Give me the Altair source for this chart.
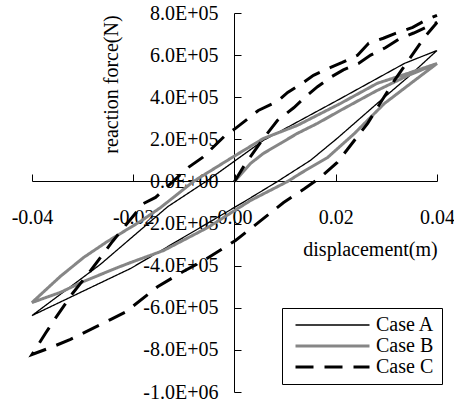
import altair as alt
import pandas as pd

cases = ["Case A", "Case B", "Case C"]
colors = ["#000000", "#868686", "#000000"]
dashes = [[1, 0], [1, 0], [18, 11]]
widths = [1.3, 3, 3]

# Case A (thin black): right corner -> unloading -> left corner -> reloading
a_x = [0.04, 0.0342, 0.0284, 0.0203, 0.015, 0.0085, 0.002, -0.0205, -0.04,
       -0.0265, -0.0132, -0.005, 0.0057, 0.0203, 0.0336, 0.04]
a_y = [6.22e5, 4.94e5, 3.75e5, 2.05e5, 1.0e5, 0.0, -0.95e5, -4.13e5, -6.37e5,
       -3.94e5, -1.2e5, 0.1e5, 1.95e5, 3.85e5, 5.61e5, 6.22e5]

# Case B (gray): initial loading, unloading, reloading
b_x = [0.0, 0.0032, 0.0057, 0.0091, 0.0124, 0.0164, 0.0209, 0.028, 0.034, 0.04,
       0.0356, 0.0296, 0.0237, 0.0184, 0.013, 0.0105, 0.0032, -0.0053, -0.014, -0.0205,
       -0.0231, -0.0298, -0.0344, -0.04,
       -0.0344, -0.0298, -0.0251, -0.0186, -0.0146, -0.0081, -0.0008, 0.0057, 0.0124,
       0.0209, 0.0282, 0.0342, 0.04]
b_y = [0.0, 0.86e5, 1.33e5, 1.81e5, 2.28e5, 2.76e5, 3.37e5, 4.3e5, 5.0e5, 5.6e5,
       4.8e5, 3.7e5, 2.28e5, 1.14e5, 0.38e5, 0.0, -0.9e5, -2.19e5, -3.28e5, -3.85e5,
       -4.09e5, -4.75e5, -5.27e5, -5.75e5,
       -4.51e5, -3.61e5, -2.85e5, -1.9e5, -1.24e5, 0.0, 1.09e5, 2.04e5, 2.66e5,
       3.7e5, 4.66e5, 5.13e5, 5.6e5]

# Case C (dashed): initial loading, unloading, reloading
c_x = [0.0, 0.0022, 0.0057, 0.0085, 0.0117, 0.0144, 0.0164, 0.019, 0.0215, 0.0245,
       0.0269, 0.0298, 0.0324, 0.0354, 0.0381, 0.04,
       0.0375, 0.0316, 0.0263, 0.0203, 0.017, 0.0138, 0.0097, 0.005, 0.0002, -0.0057,
       -0.0103, -0.0152, -0.0215, -0.0245, -0.0324, -0.0358, -0.04,
       -0.0373, -0.0354, -0.032, -0.0284, -0.0241, -0.018, -0.0156, -0.0091, -0.0063,
       -0.0018, 0.0002, 0.0047, 0.0085, 0.0105, 0.0136, 0.0156, 0.019, 0.0213, 0.0243,
       0.0265, 0.0294, 0.0318, 0.0352, 0.0377, 0.04]
c_y = [0.0, 0.86e5, 2.04e5, 2.9e5, 3.5e5, 4.1e5, 4.5e5, 4.95e5, 5.3e5, 5.6e5,
       6.0e5, 6.35e5, 6.75e5, 7.05e5, 7.35e5, 7.55e5,
       6.84e5, 4.8e5, 2.76e5, 0.9e5, 0.2e5, -0.35e5, -1.0e5, -1.9e5, -2.8e5, -3.7e5,
       -4.3e5, -5.0e5, -6.2e5, -6.56e5, -7.5e5, -7.84e5, -8.22e5,
       -7.2e5, -6.5e5, -5.32e5, -4.23e5, -2.85e5, -1.05e5, -0.76e5, 0.67e5, 1.14e5,
       2.19e5, 2.52e5, 3.37e5, 3.8e5, 4.23e5, 4.7e5, 5.04e5, 5.42e5, 5.65e5, 5.99e5,
       6.56e5, 6.8e5, 7.03e5, 7.32e5, 7.65e5, 7.89e5]

x_ticks = [-0.04, -0.02, 0.0, 0.02, 0.04]
x_tick_labels = ["-0.04", "-0.02", "0.00", "0.02", "0.04"]
y_ticks = [-1000000, -800000, -600000, -400000, -200000, 0, 200000, 400000, 600000, 800000]
y_tick_labels = ["-1.0E+06", "-8.0E+05", "-6.0E+05", "-4.0E+05", "-2.0E+05",
                 "0.0E+00", "2.0E+05", "4.0E+05", "6.0E+05", "8.0E+05"]

rows = []
for name, xs, ys in [("Case A", a_x, a_y), ("Case B", b_x, b_y), ("Case C", c_x, c_y)]:
    for i, (xv, yv) in enumerate(zip(xs, ys)):
        rows.append({"case": name, "i": i, "x": xv, "y": yv})
df = pd.DataFrame(rows)

def lookup_expr(vals, labels):
    parts = [f"abs(datum.value - ({v})) < 1e-9 ? '{l}'" for v, l in zip(vals, labels)]
    return " : ".join(parts) + " : ''"

FONT = "Liberation Serif"
W, H = 405, 379

xscale = alt.Scale(domain=[-0.04, 0.04], nice=False, zero=False)
yscale = alt.Scale(domain=[-1000000, 800000], nice=False, zero=False)

legend = alt.Legend(
    title=None, orient="none", legendX=250, legendY=295,
    strokeColor="black", fillColor="white", padding=7,
    symbolType="stroke", symbolSize=5476, clipHeight=20, rowPadding=1,
    symbolOffset=5, labelOffset=5,
    labelFont=FONT, labelFontSize=20, labelColor="black",
)

lines = alt.Chart(df).mark_line().encode(
    x=alt.X("x:Q", scale=xscale, axis=alt.Axis(
        orient="top", offset=-168, values=x_ticks, labels=False, title=None,
        grid=False, domainColor="black", tickColor="black", tickSize=7,
        domainWidth=1, tickWidth=1)),
    y=alt.Y("y:Q", scale=yscale, axis=alt.Axis(
        orient="right", offset=-203, values=y_ticks, labels=False, title=None,
        grid=False, domainColor="black", tickColor="black", tickSize=7,
        domainWidth=1, tickWidth=1)),
    color=alt.Color("case:N", scale=alt.Scale(domain=cases, range=colors), legend=legend),
    strokeDash=alt.StrokeDash("case:N", scale=alt.Scale(domain=cases, range=dashes), legend=legend),
    strokeWidth=alt.StrokeWidth("case:N", scale=alt.Scale(type="ordinal", domain=cases, range=widths), legend=legend),
    order="i:Q",
)

labels_layer = alt.Chart(df).mark_point(opacity=0).encode(
    x=alt.X("x:Q", scale=xscale, axis=alt.Axis(
        orient="bottom", offset=-211, values=x_ticks, domain=False, ticks=False,
        tickSize=0, grid=False, labelPadding=26,
        labelExpr=lookup_expr(x_ticks, x_tick_labels),
        labelFont=FONT, labelFontSize=20, labelColor="black",
        labelFlush=False, labelOverlap=False,
        title="displacement(m)", titleFont=FONT, titleFontSize=20,
        titleFontWeight="normal", titleColor="black",
        titleX=338, titleY=68, titleAlign="center", titleBaseline="middle",
        titleAnchor="start")),
    y=alt.Y("y:Q", scale=yscale, axis=alt.Axis(
        orient="left", offset=-202, values=y_ticks, domain=False, ticks=False,
        tickSize=0, grid=False, labelPadding=16,
        labelExpr=lookup_expr(y_ticks, y_tick_labels),
        labelFont=FONT, labelFontSize=20, labelColor="black",
        labelFlush=False, labelOverlap=False,
        title="reaction force(N)", titleFont=FONT, titleFontSize=20,
        titleFontWeight="normal", titleColor="black",
        titleX=-123, titleY=71, titleAngle=270, titleAlign="center",
        titleBaseline="middle", titleAnchor="start")),
)

chart = alt.layer(labels_layer, lines).resolve_axis(
    x="independent", y="independent"
).properties(
    width=W, height=H,
    autosize=alt.AutoSizeParams(type="none"),
    padding={"left": 32, "top": 13, "right": 17, "bottom": 16},
    background="white",
).configure_view(stroke=None)

chart.save("out.html", embed_options={"renderer": "svg", "actions": False})
